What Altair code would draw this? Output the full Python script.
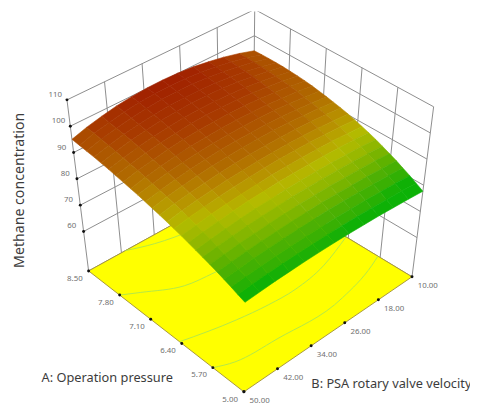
import altair as alt

# axis ticks
A_TICKS = [8.5, 7.8, 7.1, 6.4, 5.7, 5.0]
B_TICKS = [50, 42, 34, 26, 18, 10]
Z_TICKS = [110, 100, 90, 80, 70, 60]
Z_FLOOR, Z_TOP = 45, 110

# response surface
GRID_A = [5.00, 5.15, 5.29, 5.44, 5.58, 5.73, 5.88, 6.02, 6.17, 6.31, 6.46, 6.60, 6.75,
          6.90, 7.04, 7.19, 7.33, 7.48, 7.63, 7.77, 7.92, 8.06, 8.21, 8.35, 8.50]
GRID_B = [10.0, 13.3, 16.7, 20.0, 23.3, 26.7, 30.0, 33.3, 36.7, 40.0, 43.3, 46.7, 50.0]
GRID_Z = [
    [77.7, 78.3, 78.8, 79.3, 79.6, 79.9, 80.1, 80.2, 80.2, 80.1, 80.0, 79.7, 79.4],
    [79.2, 79.8, 80.2, 80.7, 81.0, 81.2, 81.4, 81.4, 81.4, 81.3, 81.1, 80.8, 80.4],
    [80.6, 81.2, 81.6, 82.0, 82.3, 82.5, 82.6, 82.6, 82.6, 82.4, 82.2, 81.8, 81.4],
    [81.9, 82.5, 82.9, 83.3, 83.6, 83.8, 83.8, 83.8, 83.7, 83.5, 83.3, 82.8, 82.4],
    [83.2, 83.7, 84.2, 84.5, 84.8, 85.0, 85.0, 85.0, 84.8, 84.6, 84.3, 83.8, 83.3],
    [84.4, 85.0, 85.4, 85.7, 86.0, 86.1, 86.2, 86.1, 85.9, 85.6, 85.3, 84.7, 84.2],
    [85.6, 86.2, 86.6, 86.9, 87.1, 87.2, 87.3, 87.1, 86.9, 86.6, 86.2, 85.6, 85.0],
    [86.7, 87.3, 87.7, 88.0, 88.2, 88.3, 88.3, 88.1, 87.9, 87.6, 87.1, 86.5, 85.8],
    [87.7, 88.3, 88.7, 89.0, 89.2, 89.3, 89.3, 89.1, 88.9, 88.5, 88.0, 87.4, 86.6],
    [88.6, 89.2, 89.7, 90.0, 90.2, 90.3, 90.3, 90.1, 89.8, 89.4, 88.9, 88.2, 87.4],
    [89.5, 90.1, 90.6, 91.0, 91.2, 91.3, 91.2, 91.0, 90.7, 90.3, 89.7, 89.0, 88.1],
    [90.3, 90.9, 91.5, 91.9, 92.1, 92.2, 92.1, 91.9, 91.6, 91.1, 90.5, 89.8, 88.8],
    [91.0, 91.7, 92.3, 92.7, 92.9, 93.0, 93.0, 92.8, 92.4, 91.9, 91.3, 90.5, 89.5],
    [91.6, 92.4, 93.0, 93.5, 93.7, 93.8, 93.8, 93.6, 93.2, 92.7, 92.0, 91.2, 90.1],
    [92.2, 93.0, 93.7, 94.2, 94.5, 94.6, 94.6, 94.4, 94.0, 93.4, 92.7, 91.8, 90.7],
    [92.7, 93.6, 94.3, 94.9, 95.2, 95.3, 95.3, 95.1, 94.7, 94.1, 93.4, 92.4, 91.3],
    [93.2, 94.2, 94.9, 95.5, 95.8, 96.0, 96.0, 95.8, 95.4, 94.8, 94.0, 93.0, 91.8],
    [93.6, 94.6, 95.4, 96.1, 96.5, 96.7, 96.7, 96.5, 96.1, 95.5, 94.6, 93.6, 92.3],
    [93.9, 95.0, 95.9, 96.6, 97.1, 97.3, 97.4, 97.2, 96.7, 96.1, 95.2, 94.1, 92.8],
    [94.1, 95.3, 96.3, 97.1, 97.6, 97.9, 98.0, 97.8, 97.3, 96.7, 95.8, 94.6, 93.3],
    [94.3, 95.6, 96.7, 97.5, 98.1, 98.4, 98.5, 98.3, 97.9, 97.2, 96.3, 95.1, 93.7],
    [94.4, 95.8, 97.0, 97.9, 98.5, 98.9, 99.0, 98.9, 98.4, 97.7, 96.8, 95.6, 94.1],
    [94.4, 96.0, 97.2, 98.2, 98.9, 99.4, 99.5, 99.4, 98.9, 98.2, 97.2, 96.0, 94.4],
    [94.4, 96.1, 97.4, 98.5, 99.3, 99.8, 99.9, 99.8, 99.4, 98.7, 97.6, 96.4, 94.7],
    [94.3, 96.1, 97.6, 98.7, 99.6, 100.1, 100.3, 100.2, 99.8, 99.1, 98.0, 96.7, 95.0],
]

# floor contours, (A, B) pairs
CONTOUR_1 = [(8.5, 41), (8.34, 35.7), (8.26, 31.8), (8.2, 26), (8.25, 18), (8.4, 10)]
CONTOUR_2 = [(7.8, 50), (7.64, 46.6), (7.32, 39.5), (7.24, 33.2), (7.2, 26), (7.4, 18), (7.7, 10)]
CONTOUR_3 = [(6.45, 50), (6.22, 38.8), (6.13, 32), (6.1, 26), (6.2, 18), (6.45, 10)]
CONTOUR_4 = [(5.7, 50), (5.56, 46.2), (5.48, 37), (5.44, 21.8), (5.66, 12.4), (5.75, 10)]
CONTOURS = [CONTOUR_1, CONTOUR_2, CONTOUR_3, CONTOUR_4]

# box corners of the view, used by the projection: left, front, right, back
FLOOR_VIEW = [(82, 264), (240, 387), (411, 270), (249, 172)]
TOP_VIEW = [(60, 90), (242, 215), (433, 97), (251, -2)]


def lerp(p, q, t):
    return (p[0] + (q[0] - p[0]) * t, p[1] + (q[1] - p[1]) * t)


def bilinear(c, u, v):
    return lerp(lerp(c[0], c[1], u), lerp(c[3], c[2], u), v)


def project(a, b, z):
    u = (8.5 - a) / 3.5
    v = (50 - b) / 40
    t = (z - Z_FLOOR) / (Z_TOP - Z_FLOOR)
    return lerp(bilinear(FLOOR_VIEW, u, v), bilinear(TOP_VIEW, u, v), t)


def poly(pts, **props):
    ring = [list(project(*p)) for p in pts]
    ring.append(ring[0])
    return {"type": "Feature", "properties": props,
            "geometry": {"type": "Polygon", "coordinates": [ring]}}


# quads painted back to front
quads = []
for i in range(len(GRID_A) - 2, -1, -1):
    for j in range(len(GRID_B) - 1):
        z = (GRID_Z[i][j] + GRID_Z[i + 1][j] + GRID_Z[i][j + 1] + GRID_Z[i + 1][j + 1]) / 4
        quads.append(poly([
            (GRID_A[i], GRID_B[j], GRID_Z[i][j]),
            (GRID_A[i + 1], GRID_B[j], GRID_Z[i + 1][j]),
            (GRID_A[i + 1], GRID_B[j + 1], GRID_Z[i + 1][j + 1]),
            (GRID_A[i], GRID_B[j + 1], GRID_Z[i][j + 1]),
        ], z=round(z, 2), order=len(quads)))

floor = [poly([(8.5, 50, Z_FLOOR), (5, 50, Z_FLOOR), (5, 10, Z_FLOOR), (8.5, 10, Z_FLOOR)])]

segs = []
for z in Z_TICKS + [Z_FLOOR]:
    segs.append(((8.5, 50, z), (8.5, 10, z)))
    segs.append(((8.5, 10, z), (5, 10, z)))
for b in B_TICKS:
    segs.append(((8.5, b, Z_FLOOR), (8.5, b, Z_TOP)))
for a in A_TICKS[1:]:
    segs.append(((a, 10, Z_FLOOR), (a, 10, Z_TOP)))
wall_rows = []
for n, (p, q) in enumerate(segs):
    for k, pt in enumerate((p, q)):
        x, y = project(*pt)
        wall_rows.append({"id": n, "k": k, "lon": x, "lat": y})

contour_rows = []
for n, c in enumerate(CONTOURS):
    for k, (a, b) in enumerate(c):
        x, y = project(a, b, Z_FLOOR)
        contour_rows.append({"id": n, "k": k, "lon": x, "lat": y})

a_rows = [dict(zip(("lon", "lat"), project(a, 50, Z_FLOOR)), label=f"{a:.2f}") for a in A_TICKS]
b_rows = [dict(zip(("lon", "lat"), project(5, b, Z_FLOOR)), label=f"{b:.2f}") for b in B_TICKS]
z_rows = [dict(zip(("lon", "lat"), project(8.5, 50, z)), label=str(z)) for z in Z_TICKS]

LON = alt.Longitude("lon:Q")
LAT = alt.Latitude("lat:Q")

color_scale = alt.Scale(
    domain=[77.5, 80.5, 83.5, 88.5, 93, 97, 100.5],
    range=["#08b408", "#10b006", "#50b004", "#b4ba00", "#b06a00", "#a83a00", "#a01c00"],
)

wall_layer = alt.Chart(alt.Data(values=wall_rows)).mark_line(color="#8c8c8c", strokeWidth=1).encode(
    longitude=LON, latitude=LAT, detail="id:N", order="k:Q")
floor_layer = alt.Chart(alt.Data(values=floor)).mark_geoshape(
    fill="#ffff00", stroke="#a8983a", strokeWidth=1)
contour_layer = alt.Chart(alt.Data(values=contour_rows)).mark_line(
    color="#b4e848", strokeWidth=1, interpolate="monotone").encode(
    longitude=LON, latitude=LAT, detail="id:N", order="k:Q")
surface_layer = alt.Chart(alt.Data(values=quads)).mark_geoshape(strokeWidth=0.6).encode(
    fill=alt.Fill("properties.z:Q", scale=color_scale, legend=None),
    stroke=alt.Stroke("properties.z:Q", scale=color_scale, legend=None),
    order="properties.order:Q",
)


def dots(rows):
    return alt.Chart(alt.Data(values=rows)).mark_circle(color="#111111", size=9, opacity=1).encode(
        longitude=LON, latitude=LAT)


def labels(rows, dx, dy):
    return alt.Chart(alt.Data(values=rows)).mark_text(
        font="Noto Sans", fontSize=8, color="#707070", dx=dx, dy=dy).encode(
        longitude=LON, latitude=LAT, text="label:N")


def title(text, x, y, angle=0, size=13):
    return alt.Chart(alt.Data(values=[{"t": text}])).mark_text(
        font="Noto Sans", fontSize=size, color="#3c3c3c", angle=angle).encode(
        x=alt.value(x), y=alt.value(y), text="t:N")


chart = alt.layer(
    wall_layer, floor_layer, contour_layer, surface_layer,
    dots(a_rows), dots(b_rows), dots(z_rows),
    labels(a_rows, -14, 8), labels(b_rows, 16, 9), labels(z_rows, -12, -5),
    title("Methane concentration", 12, 182, angle=270, size=14.4),
    title("A: Operation pressure", 101, 373),
    title("B: PSA rotary valve velocity", 390, 379),
).project(type="identity", scale=1, translate=[0, 0]).properties(
    width=470, height=400, padding=0, autosize=alt.AutoSizeParams(type="none"),
).configure_view(stroke=None)

chart.save("out.html", embed_options={"renderer": "svg", "actions": False})
